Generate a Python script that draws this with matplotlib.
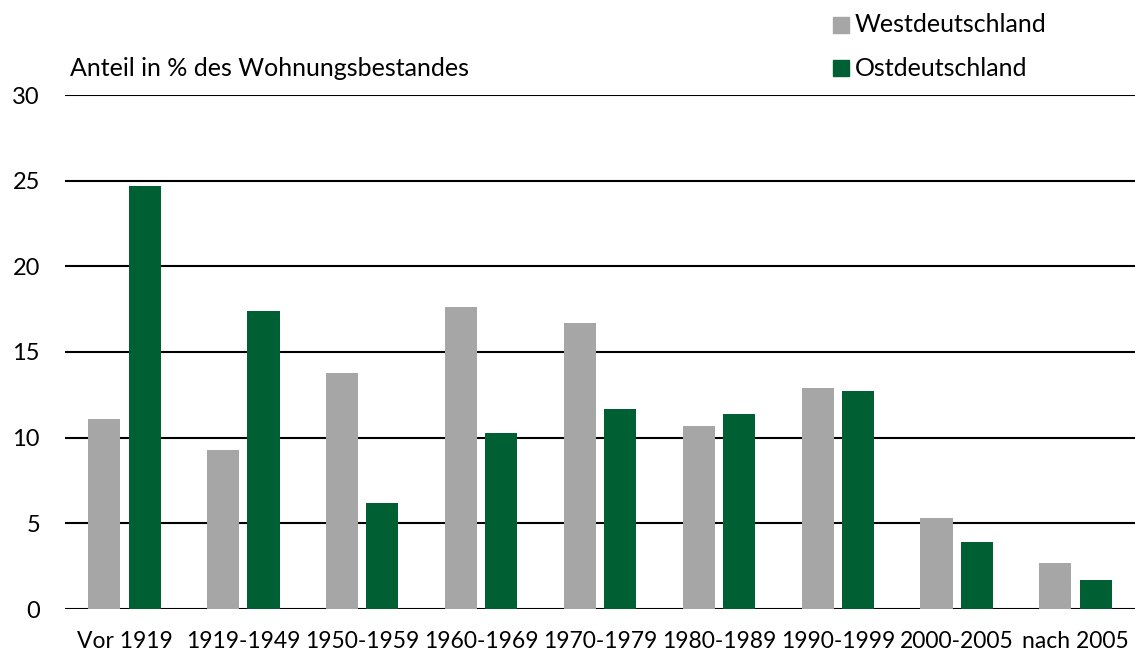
import numpy as np
import matplotlib.pyplot as plt
from matplotlib.patches import Rectangle

plt.rcParams['font.family'] = ['Lato', 'DejaVu Sans']

kategorien = ['Vor 1919', '1919-1949', '1950-1959', '1960-1969', '1970-1979',
              '1980-1989', '1990-1999', '2000-2005', 'nach 2005']
west = [11.1, 9.3, 13.8, 17.6, 16.7, 10.7, 12.9, 5.3, 2.7]
ost = [24.7, 17.4, 6.2, 10.3, 11.7, 11.4, 12.7, 3.9, 1.7]
yticks = [0, 5, 10, 15, 20, 25, 30]

grau = '#a6a6a6'
gruen = '#005f33'

fig = plt.figure(figsize=(11.35, 6.57), dpi=100)
ax = fig.add_axes([65/1135, 1 - 609/657, 1070/1135, 514/657])

x = np.arange(len(kategorien))
ax.bar(x - 0.17, west, width=0.27, color=grau, zorder=3)
ax.bar(x + 0.17, ost, width=0.27, color=gruen, zorder=3)

ax.set_xlim(-0.5, len(kategorien) - 0.5)
ax.set_ylim(0, 30)
ax.set_yticks(yticks)
for y in yticks:
    ax.axhline(y, color='black', lw=1.5, zorder=2)

for s in ax.spines.values():
    s.set_visible(False)
ax.tick_params(axis='y', length=0, pad=18, labelsize=17)
ax.tick_params(axis='x', length=0, pad=16, labelsize=16.5)
ax.set_xticks(x)
ax.set_xticklabels(kategorien)

fig.text(70/1135, 1 - 68/657, 'Anteil in % des Wohnungsbestandes', fontsize=18,
         va='center', ha='left')

# Legende
for i, (lab, col) in enumerate([('Westdeutschland', grau), ('Ostdeutschland', gruen)]):
    yc = 25 + i * 43
    fig.patches.append(Rectangle((833/1135, 1 - (yc + 8)/657), 16/1135, 16/657,
                                 color=col, transform=fig.transFigure, figure=fig))
    fig.text(855/1135, 1 - yc/657, lab, fontsize=18, va='center', ha='left')

fig.savefig('out.png', dpi=100)
